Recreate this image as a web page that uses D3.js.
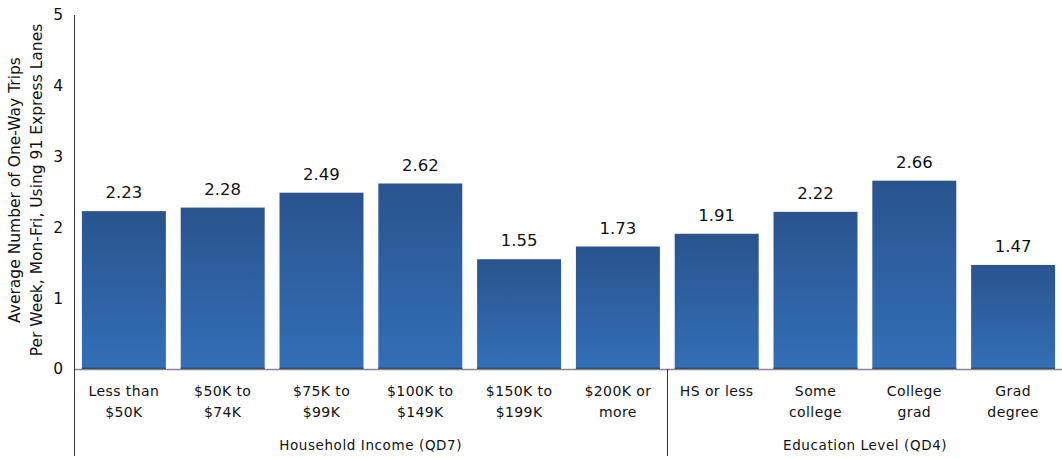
<!DOCTYPE html>
<html>
<head>
<meta charset="utf-8">
<script src="https://cdn.jsdelivr.net/npm/d3@7"></script>
<style>
  html, body { margin: 0; padding: 0; background: #fff; }
  svg { display: block; }
  text { font-family: "DejaVu Sans", sans-serif; fill: #111; }
</style>
</head>
<body>
<svg id="chart" width="1062" height="459"></svg>
<script>
// Average weekly one-way trips on the 91 Express Lanes, by segment
const categories = [
  ["Less than", "$50K"], ["$50K to", "$74K"], ["$75K to", "$99K"],
  ["$100K to", "$149K"], ["$150K to", "$199K"], ["$200K or", "more"],
  ["HS or less"], ["Some", "college"], ["College", "grad"], ["Grad", "degree"]
];
const values = [2.23, 2.28, 2.49, 2.62, 1.55, 1.73, 1.91, 2.22, 2.66, 1.47];
const groupNames = ["Household Income (QD7)", "Education Level (QD4)"];
const groupSizes = [6, 4];
const yTicks = [0, 1, 2, 3, 4, 5];
const yTitle = ["Average Number of One-Way Trips", "Per Week, Mon-Fri, Using 91 Express Lanes"];

const svg = d3.select("#chart");
const plotLeft = 74, plotRight = 1063, plotTop = 15, plotBottom = 369;

const x = d3.scaleBand()
  .domain(d3.range(values.length))
  .range([plotLeft, plotRight])
  .paddingInner(0.15)
  .paddingOuter(0.08);
const y = d3.scaleLinear().domain([0, 5]).range([plotBottom, plotTop]);

// vertical bar gradient
const defs = svg.append("defs");
const grad = defs.append("linearGradient")
  .attr("id", "barFill").attr("x1", 0).attr("y1", 0).attr("x2", 0).attr("y2", 1);
grad.append("stop").attr("offset", "0%").attr("stop-color", "#29548e");
grad.append("stop").attr("offset", "100%").attr("stop-color", "#336fb7");

// y axis tick labels
const yAxis = d3.axisLeft(y).tickValues(yTicks).tickSize(0).tickPadding(11).tickFormat(d3.format("d"));
const ya = svg.append("g").attr("transform", `translate(${plotLeft},0)`).call(yAxis);
ya.select(".domain").remove();
ya.selectAll("text").style("font-size", "15.5px").style("font-family", "DejaVu Sans, sans-serif").attr("fill", "#111");

// bars
svg.append("g").selectAll("rect").data(values).join("rect")
  .attr("x", (d, i) => x(i))
  .attr("y", d => y(d))
  .attr("width", x.bandwidth())
  .attr("height", d => y(0) - y(d))
  .attr("fill", "url(#barFill)");

// dark base edge under bars
svg.append("g").selectAll("line").data(values).join("line")
  .attr("x1", (d, i) => x(i)).attr("x2", (d, i) => x(i) + x.bandwidth())
  .attr("y1", y(0) - 0.5).attr("y2", y(0) - 0.5)
  .attr("stroke", "#1c3a66").attr("stroke-width", 1.5);

// value labels
svg.append("g").selectAll("text").data(values).join("text")
  .attr("x", (d, i) => x(i) + x.bandwidth() / 2)
  .attr("y", d => y(d) - 13)
  .attr("text-anchor", "middle")
  .style("font-size", "16.5px")
  .text(d => d.toFixed(2));

// zero baseline
svg.append("line")
  .attr("x1", plotLeft).attr("x2", 1062)
  .attr("y1", y(0) + 0.5).attr("y2", y(0) + 0.5)
  .attr("stroke", "#888").attr("stroke-width", 1.5);

// y axis line, running down through the category area
svg.append("line")
  .attr("x1", plotLeft + 0.5).attr("x2", plotLeft + 0.5)
  .attr("y1", plotTop).attr("y2", 456)
  .attr("stroke", "#333").attr("stroke-width", 1);

// category labels
const catG = svg.append("g").selectAll("text").data(categories).join("text")
  .attr("text-anchor", "middle")
  .attr("transform", (d, i) => `translate(${x(i) + x.bandwidth() / 2},0)`)
  .style("font-size", "14px")
  .style("letter-spacing", "0.4px");
catG.selectAll("tspan").data(d => d).join("tspan")
  .attr("x", 0)
  .attr("y", (d, j) => 396 + j * 21)
  .text(d => d);

// group separators and labels
let start = 0;
groupSizes.forEach((n, g) => {
  const x0 = g === 0 ? plotLeft : x(start) - x.step() * x.paddingInner() / 2;
  const x1 = start + n >= values.length ? plotRight : x(start + n) - x.step() * x.paddingInner() / 2;
  if (g > 0) {
    svg.append("line")
      .attr("x1", Math.round(x0) + 0.5).attr("x2", Math.round(x0) + 0.5)
      .attr("y1", y(0)).attr("y2", 456)
      .attr("stroke", "#333").attr("stroke-width", 1);
  }
  svg.append("text")
    .attr("x", (x0 + x1) / 2).attr("y", 450)
    .attr("text-anchor", "middle")
    .style("font-size", "13.5px")
    .style("letter-spacing", "0.6px")
    .text(groupNames[g]);
  start += n;
});

// y axis title
const yt = svg.append("text")
  .attr("transform", "translate(0,190) rotate(-90)")
  .attr("text-anchor", "middle")
  .style("font-size", "15.5px");
yt.selectAll("tspan").data(yTitle).join("tspan")
  .attr("x", 0).attr("y", (d, i) => 20 + i * 22)
  .text(d => d);
</script>
</body>
</html>
